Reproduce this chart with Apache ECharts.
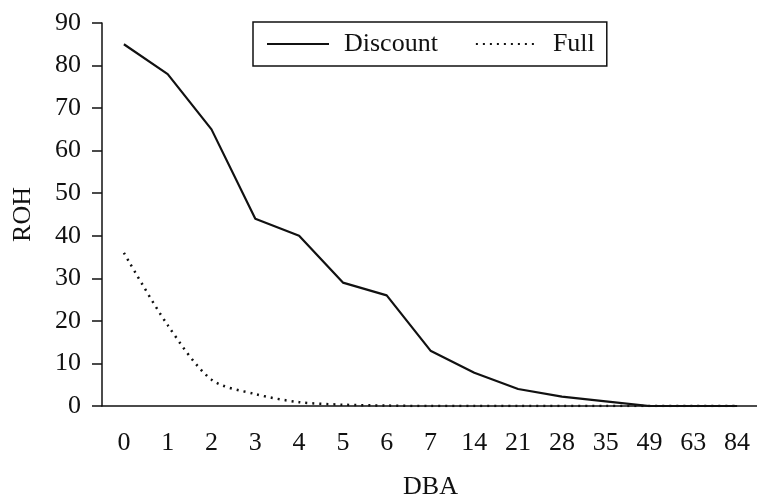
<!DOCTYPE html>
<html><head><meta charset="utf-8">
<script src="https://cdn.jsdelivr.net/npm/echarts@6/dist/echarts.min.js"></script>
<style>html,body{margin:0;padding:0;background:#fff}#c{width:757px;height:497px}</style>
</head><body><div id="c"></div>
<script>
var categories = ['0','1','2','3','4','5','6','7','14','21','28','35','49','63','84'];
var discount = [85, 78, 65, 44, 40, 29, 26, 13, 7.8, 4, 2.2, 1.1, 0, 0, 0];
var full = [36, 19, 6.2, 2.8, 0.9, 0.3, 0.1, 0, 0, 0, 0, 0, 0, 0, 0];
var yTicks = {min: 0, max: 90, interval: 10};
var font = 'Liberation Serif';
var chart = echarts.init(document.getElementById('c'));
chart.setOption({
  animation: false,
  backgroundColor: '#fff',
  grid: {left: 102, top: 23, right: -2, bottom: 91, outerBoundsMode: 'none', containLabel: false},
  legend: {
    left: 253, top: 22,
    padding: [9, 12, 9, 13],
    borderColor: '#111', borderWidth: 1.5,
    itemWidth: 62, itemHeight: 14, itemGap: 37,
    itemStyle: {opacity: 0},
    textStyle: {fontFamily: font, fontSize: 26, color: '#111', padding: [0, 0, 0, 10]},
    data: ['Discount', 'Full']
  },
  xAxis: {
    type: 'category', data: categories, boundaryGap: true,
    name: 'DBA', nameLocation: 'middle', nameGap: 68,
    nameTextStyle: {fontFamily: font, fontSize: 26, color: '#111'},
    axisLine: {lineStyle: {color: '#111', width: 1.5}},
    axisTick: {length: 10, lineStyle: {color: '#111', width: 1.5}},
    axisLabel: {fontFamily: font, fontSize: 26, color: '#111', margin: 24}
  },
  yAxis: {
    type: 'value', min: yTicks.min, max: yTicks.max, interval: yTicks.interval,
    name: 'ROH', nameLocation: 'middle', nameGap: 66,
    nameTextStyle: {fontFamily: font, fontSize: 26, color: '#111'},
    splitLine: {show: false},
    axisLine: {show: true, lineStyle: {color: '#111', width: 1.5}},
    axisTick: {show: true, length: 10, lineStyle: {color: '#111', width: 1.5}},
    axisLabel: {fontFamily: font, fontSize: 26, color: '#111', margin: 21}
  },
  series: [
    {name: 'Discount', type: 'line', data: discount, symbol: 'none',
     lineStyle: {color: '#111', width: 2.2}, itemStyle: {color: '#111'}},
    {name: 'Full', type: 'line', data: full, symbol: 'none', smooth: 0.3,
     lineStyle: {color: '#111', width: 2.5, type: [2, 5]}, itemStyle: {color: '#111'}}
  ]
});
</script></body></html>
